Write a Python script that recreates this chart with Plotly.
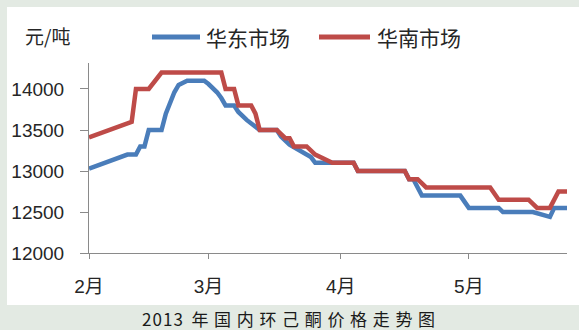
import plotly.graph_objects as go

# 华南市场 price series (元/吨)
south_dates = [
    "2013-02-01", "2013-02-11", "2013-02-12", "2013-02-15", "2013-02-18",
    "2013-03-04", "2013-03-05", "2013-03-07", "2013-03-08", "2013-03-11",
    "2013-03-12", "2013-03-13", "2013-03-17", "2013-03-19", "2013-03-20",
    "2013-03-21", "2013-03-24", "2013-03-26", "2013-03-30", "2013-04-04",
    "2013-04-05", "2013-04-16", "2013-04-17", "2013-04-19", "2013-04-21",
    "2013-05-06", "2013-05-08", "2013-05-15", "2013-05-17", "2013-05-20",
    "2013-05-22", "2013-05-24",
]
south_prices = [
    13410, 13600, 14000, 14000, 14200,
    14200, 14000, 14000, 13800, 13800,
    13700, 13500, 13500, 13400, 13400,
    13300, 13300, 13200, 13100, 13100,
    13000, 13000, 12900, 12900, 12800,
    12800, 12650, 12650, 12550, 12550,
    12750, 12750,
]

# 华东市场 price series (元/吨)
east_dates = [
    "2013-02-01", "2013-02-10", "2013-02-12", "2013-02-13", "2013-02-14",
    "2013-02-15", "2013-02-18", "2013-02-19", "2013-02-21", "2013-02-22",
    "2013-02-24", "2013-02-28", "2013-03-01", "2013-03-03", "2013-03-04",
    "2013-03-05", "2013-03-07", "2013-03-08", "2013-03-10", "2013-03-11",
    "2013-03-13", "2013-03-17", "2013-03-18", "2013-03-20", "2013-03-22",
    "2013-03-25", "2013-03-26", "2013-04-04", "2013-04-05", "2013-04-16",
    "2013-04-17", "2013-04-18", "2013-04-20", "2013-04-29", "2013-05-01",
    "2013-05-08", "2013-05-09", "2013-05-16", "2013-05-20", "2013-05-21",
    "2013-05-24",
]
east_prices = [
    13030, 13200, 13200, 13300, 13300,
    13500, 13500, 13700, 13960, 14050,
    14100, 14100, 14060, 13960, 13890,
    13800, 13800, 13720, 13620, 13580,
    13500, 13500, 13420, 13320, 13260,
    13170, 13100, 13100, 13000, 13000,
    12900, 12900, 12700, 12700, 12550,
    12550, 12500, 12500, 12440, 12550,
    12550,
]

series_names = ["华东市场", "华南市场"]
series_colors = ["#4a7dba", "#be4b48"]

month_ticks = ["2013-02-01", "2013-03-01", "2013-04-01", "2013-05-01"]
month_labels = ["2月", "3月", "4月", "5月"]
price_ticks = [12000, 12500, 13000, 13500, 14000]
price_labels = ["12000", "12500", "13000", "13500", "14000"]

unit_label = "元/吨"
caption = "2\u200a0\u200a1\u200a3\u2002年\u2004国\u2004内\u2004环\u2004己\u2004酮\u2004价\u2004格\u2004走\u2004势\u2004图"

W, H = 579, 330
ML, MR, MT, MB = 89, 12, 63, 77
PW, PH = W - ML - MR, H - MT - MB


def px_x(px):
    return (px - ML) / PW


def px_y(py):
    return (H - MB - py) / PH


FONT = "Liberation Sans, Arial, Noto Sans CJK SC, sans-serif"
CJK = "Noto Sans CJK SC, Liberation Sans, sans-serif"
TEXT = "#262626"
AXIS = "#8a8a8a"

fig = go.Figure()
fig.add_trace(go.Scatter(x=east_dates, y=east_prices, mode="lines", name=series_names[0],
                         line=dict(color=series_colors[0], width=4.5)))
fig.add_trace(go.Scatter(x=south_dates, y=south_prices, mode="lines", name=series_names[1],
                         line=dict(color=series_colors[1], width=4.5)))

shapes = [
    # white chart panel on the tinted page
    dict(type="rect", xref="paper", yref="paper", layer="below",
         x0=px_x(7), x1=px_x(W + 5), y0=px_y(305), y1=px_y(7),
         fillcolor="white", line=dict(width=0)),
]
annotations = [
    dict(text=unit_label, xref="paper", yref="paper", x=px_x(47), y=px_y(35),
         xanchor="center", yanchor="middle", showarrow=False,
         font=dict(family=CJK, size=19, color=TEXT)),
    dict(text=caption, xref="paper", yref="paper", x=px_x(288), y=px_y(318),
         xanchor="center", yanchor="middle", showarrow=False, borderpad=0,
         font=dict(family=CJK, size=17, color="#1a1a1a")),
]

# legend: line sample followed by the series name
legend_pos = [(152, 200, 204), (319, 370, 375)]
for (x0, x1, xt), name, color in zip(legend_pos, series_names, series_colors):
    shapes.append(dict(type="line", xref="paper", yref="paper",
                       x0=px_x(x0), x1=px_x(x1), y0=px_y(37), y1=px_y(37),
                       line=dict(color=color, width=5)))
    annotations.append(dict(text=name, xref="paper", yref="paper", x=px_x(xt), y=px_y(37),
                            xanchor="left", yanchor="middle", showarrow=False,
                            font=dict(family=CJK, size=21, color=TEXT)))

fig.update_layout(
    width=W, height=H,
    margin=dict(l=ML, r=MR, t=MT, b=MB, pad=0),
    paper_bgcolor="#e3eae3",
    plot_bgcolor="white",
    showlegend=False,
    shapes=shapes,
    annotations=annotations,
    xaxis=dict(
        type="date", range=["2013-02-01", "2013-05-24"],
        tickmode="array", tickvals=month_ticks, ticktext=month_labels,
        ticks="outside", ticklen=5, tickcolor=AXIS, tickwidth=1,
        showline=True, linecolor=AXIS, linewidth=1,
        showgrid=False, zeroline=False,
        tickfont=dict(family=FONT, size=19, color=TEXT),
        ticklabelstandoff=11,
    ),
    yaxis=dict(
        range=[12000, 14317],
        tickmode="array", tickvals=price_ticks, ticktext=price_labels,
        ticks="outside", ticklen=8, tickcolor=AXIS, tickwidth=1,
        showline=True, linecolor=AXIS, linewidth=1,
        showgrid=False, zeroline=False,
        tickfont=dict(family=FONT, size=19, color=TEXT),
        ticklabelstandoff=12,
    ),
)

fig.write_html("out.html")
